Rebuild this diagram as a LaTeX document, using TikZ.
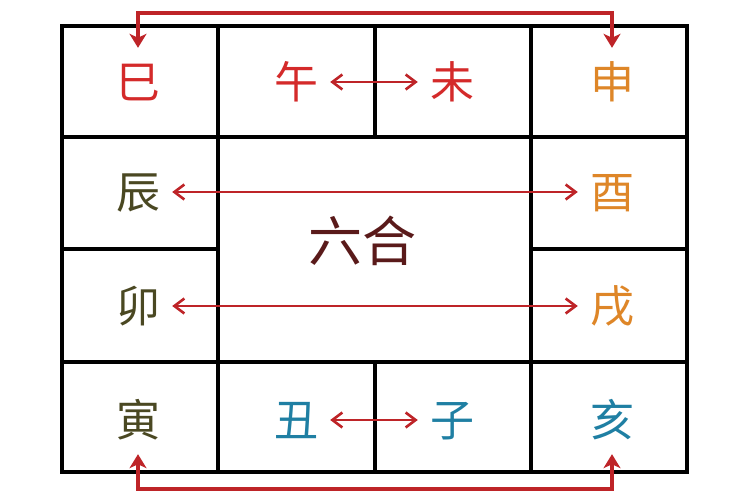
\documentclass[tikz,border=0pt]{standalone}
\usepackage{fontspec}
\newfontfamily\cjk{Noto Sans CJK SC}
\usetikzlibrary{arrows.meta}
\definecolor{cred}{HTML}{D42A2A}
\definecolor{corange}{HTML}{DE8628}
\definecolor{colive}{HTML}{4A4822}
\definecolor{cteal}{HTML}{1F7FA3}
\definecolor{cdark}{HTML}{5A1A1A}
\definecolor{carrow}{HTML}{BE2428}
\tikzset{
  gridline/.style={line width=3.6pt, black, line cap=rect},
  zhi/.style={font=\cjk\fontsize{44}{44}\selectfont, inner sep=0pt, minimum width=68pt, minimum height=68pt, text height=38.7pt, text depth=5.3pt},
  thinarr/.style={carrow, line width=2.6pt, {Straight Barb[length=10pt,width=15pt,line width=2.6pt]}-{Straight Barb[length=10pt,width=15pt,line width=2.6pt]}},
  bigarr/.style={carrow, line width=3.4pt, {Stealth[length=14pt,width=17pt,inset=4pt]}-{Stealth[length=14pt,width=17pt,inset=4pt]}}
}
\begin{document}
\begin{tikzpicture}[x=1pt,y=-1pt]
\useasboundingbox (0,0) rectangle (750,500);
\fill[white] (0,0) rectangle (750,500);
% grid
\draw[gridline] (62,26) rectangle (687,472);
\draw[gridline] (218,26) -- (218,472);
\draw[gridline] (531,26) -- (531,472);
\draw[gridline] (375,26) -- (375,137);
\draw[gridline] (375,362) -- (375,472);
\draw[gridline] (62,137) -- (687,137);
\draw[gridline] (62,362) -- (687,362);
\draw[gridline] (62,249) -- (218,249);
\draw[gridline] (531,249) -- (687,249);
% branches
\node[zhi, text=cred] (si) at (138,82) {巳};
\node[zhi, text=cred] (wu) at (296,82) {午};
\node[zhi, text=cred] (wei) at (452,82) {未};
\node[zhi, text=corange] (shen) at (612,82) {申};
\node[zhi, text=colive] (chen) at (138,192) {辰};
\node[zhi, text=corange] (you) at (612,192) {酉};
\node[zhi, text=colive] (mao) at (138,306) {卯};
\node[zhi, text=corange] (xu) at (612,306) {戌};
\node[zhi, text=colive] (yin) at (138,420) {寅};
\node[zhi, text=cteal] (chou) at (296,420) {丑};
\node[zhi, text=cteal] (zi) at (452,420) {子};
\node[zhi, text=cteal] (hai) at (612,420) {亥};
\node[font=\cjk\fontsize{54}{54}\selectfont, text=cdark, inner sep=0pt, text height=47.5pt, text depth=6.5pt] (liuhe) at (362,241) {六合};
% rails
\coordinate (toprail) at (375,13);
\coordinate (botrail) at (375,489);
% arrows
\draw[thinarr] (wu) -- (wei);
\draw[thinarr] (chen) -- (you);
\draw[thinarr] (mao) -- (xu);
\draw[thinarr] (chou) -- (zi);
\draw[bigarr] (si.north) |- (toprail) -| (shen.north);
\draw[bigarr] (yin.south) |- (botrail) -| (hai.south);
\end{tikzpicture}
\end{document}
